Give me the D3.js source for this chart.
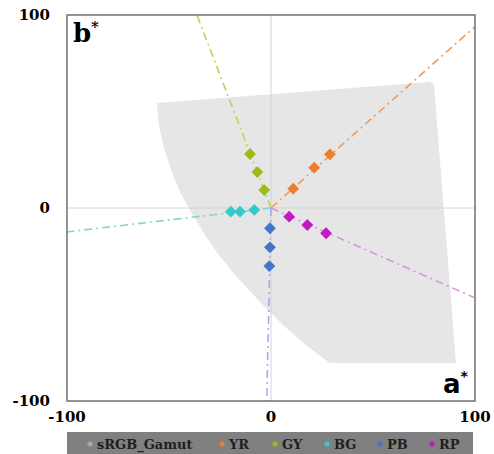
<!DOCTYPE html>
<html lang="en">
<meta charset="UTF-8">
<script src="https://d3js.org/d3.v7.min.js"></script>
<head>
    <title>a*b* hue lines</title>
    <style>
        body { margin: 0; background-color: white; }
    </style>
</head>
<body>
<div id="my_dataviz"></div>
<script>
    const width = 494,
        height = 454;
    const plotL = 67, plotR = 475, plotT = 15, plotB = 401;

    // hue names and colours
    const hues = ["YR", "GY", "BG", "PB", "RP"];
    const markerColors = ["#ee7d2f", "#9bbb17", "#36c9c9", "#4574c9", "#c219c2"];
    const lineColors = ["#f29a5a", "#bad35a", "#7fd6d6", "#a9a9f0", "#dc94e2"];

    // samples, [a*, b*]
    const yrPts = [[10.9, 10.0], [21.2, 20.9], [28.9, 27.8]];
    const gyPts = [[-10.3, 28.0], [-6.7, 18.6], [-3.3, 9.3]];
    const bgPts = [[-19.7, -1.9], [-15.2, -1.9], [-8.2, -1.0]];
    const pbPts = [[-0.5, -10.5], [-0.5, -20.4], [-0.8, -30.1]];
    const rpPts = [[8.9, -4.5], [17.8, -8.8], [27.0, -13.1]];

    // where each constant hue line leaves the plot
    const lineEnds = [[100, 94], [-36.3, 100], [-100, -12.4], [-2.1, -100], [100, -46.6]];

    // sRGB gamut outline
    const gamut = [[-55.9, 54.4], [14.2, 60.1], [77.9, 65.3], [79.9, 63.7], [90.7, -80.3], [28.9, -80.3],
        [17.6, -71.5], [5.9, -60.6], [-5.4, -48.7], [-16.2, -36.3], [-26.0, -23.8], [-33.3, -12.4],
        [-39.2, -2.1], [-44.6, 8.3], [-49.0, 19.7], [-52.5, 31.1], [-54.9, 43.0]];

    const xTicks = [-100, 0, 100];
    const yTicks = [-100, 0, 100];

    const series = [yrPts, gyPts, bgPts, pbPts, rpPts];

    const x = d3.scaleLinear().domain([-100, 100]).range([plotL, plotR]);
    const y = d3.scaleLinear().domain([-100, 100]).range([plotB, plotT]);

    const svg = d3.select("#my_dataviz")
        .append("svg")
        .attr("width", width)
        .attr("height", height)
        .style("display", "block");

    svg.append("rect").attr("width", width).attr("height", height).attr("fill", "white");

    // gamut area
    svg.append("path")
        .attr("d", d3.line().x(d => x(d[0])).y(d => y(d[1])).curve(d3.curveLinearClosed)(gamut))
        .attr("fill", "#e6e6e6");

    // zero lines
    svg.append("line").attr("x1", x(0)).attr("x2", x(0)).attr("y1", plotT).attr("y2", plotB)
        .attr("stroke", "#d4d4d4").attr("stroke-width", 1);
    svg.append("line").attr("x1", plotL).attr("x2", plotR).attr("y1", y(0)).attr("y2", y(0))
        .attr("stroke", "#d4d4d4").attr("stroke-width", 1);

    // hue lines
    svg.selectAll("line.hue")
        .data(lineEnds)
        .join("line")
        .attr("class", "hue")
        .attr("x1", x(0)).attr("y1", y(0))
        .attr("x2", d => x(d[0])).attr("y2", d => y(d[1]))
        .attr("stroke", (d, i) => lineColors[i])
        .attr("stroke-width", 1.6)
        .attr("stroke-dasharray", "8,4,2,4");

    // diamonds
    const diamond = d3.symbol().type(d3.symbolSquare).size(70);
    series.forEach(function(pts, i) {
        svg.selectAll(null)
            .data(pts)
            .join("path")
            .attr("d", diamond)
            .attr("transform", d => `translate(${x(d[0])},${y(d[1])}) rotate(45)`)
            .attr("fill", markerColors[i]);
    });

    // frame
    svg.append("rect")
        .attr("x", plotL).attr("y", plotT)
        .attr("width", plotR - plotL).attr("height", plotB - plotT)
        .attr("fill", "none").attr("stroke", "#7a7a7a").attr("stroke-width", 1.6);

    // tick labels
    const tickFont = "DejaVu Serif";
    svg.selectAll("text.xt")
        .data(xTicks)
        .join("text")
        .attr("x", d => x(d)).attr("y", 422)
        .attr("text-anchor", "middle")
        .style("font-family", tickFont).style("font-weight", "bold").style("font-size", "15px")
        .text(d => d);
    svg.selectAll("text.yt")
        .data(yTicks)
        .join("text")
        .attr("x", 50).attr("y", d => y(d) + 5)
        .attr("text-anchor", "end")
        .style("font-family", tickFont).style("font-weight", "bold").style("font-size", "15px")
        .text(d => d);

    // axis names
    const bLab = svg.append("text").attr("x", 73).attr("y", 42)
        .style("font-family", "DejaVu Serif").style("font-weight", "bold").style("font-size", "26px")
        .text("b");
    bLab.append("tspan").attr("dy", -10).style("font-size", "14px").text("*");
    const aLab = svg.append("text").attr("x", 443).attr("y", 393)
        .style("font-family", "DejaVu Sans").style("font-weight", "bold").style("font-size", "26px")
        .text("a");
    aLab.append("tspan").attr("dy", -12).style("font-size", "14px").text("*");

    // legend
    svg.append("rect").attr("x", plotL).attr("y", 432).attr("width", plotR - plotL - 2).attr("height", 22)
        .attr("fill", "#808080");
    const legNames = ["sRGB_Gamut"].concat(hues);
    const legColors = ["#a6a6a6"].concat(markerColors);
    const legX = [90, 222, 275, 327, 380, 432];
    legNames.forEach(function(n, i) {
        svg.append("circle").attr("cx", legX[i]).attr("cy", 444).attr("r", 2.6).attr("fill", legColors[i]);
        svg.append("text").attr("x", legX[i] + 7).attr("y", 449)
            .style("font-family", "DejaVu Serif").style("font-weight", "bold").style("font-size", "13px")
            .attr("fill", "#1e1e1e")
            .text(n);
    });
</script>
</body>
</html>
